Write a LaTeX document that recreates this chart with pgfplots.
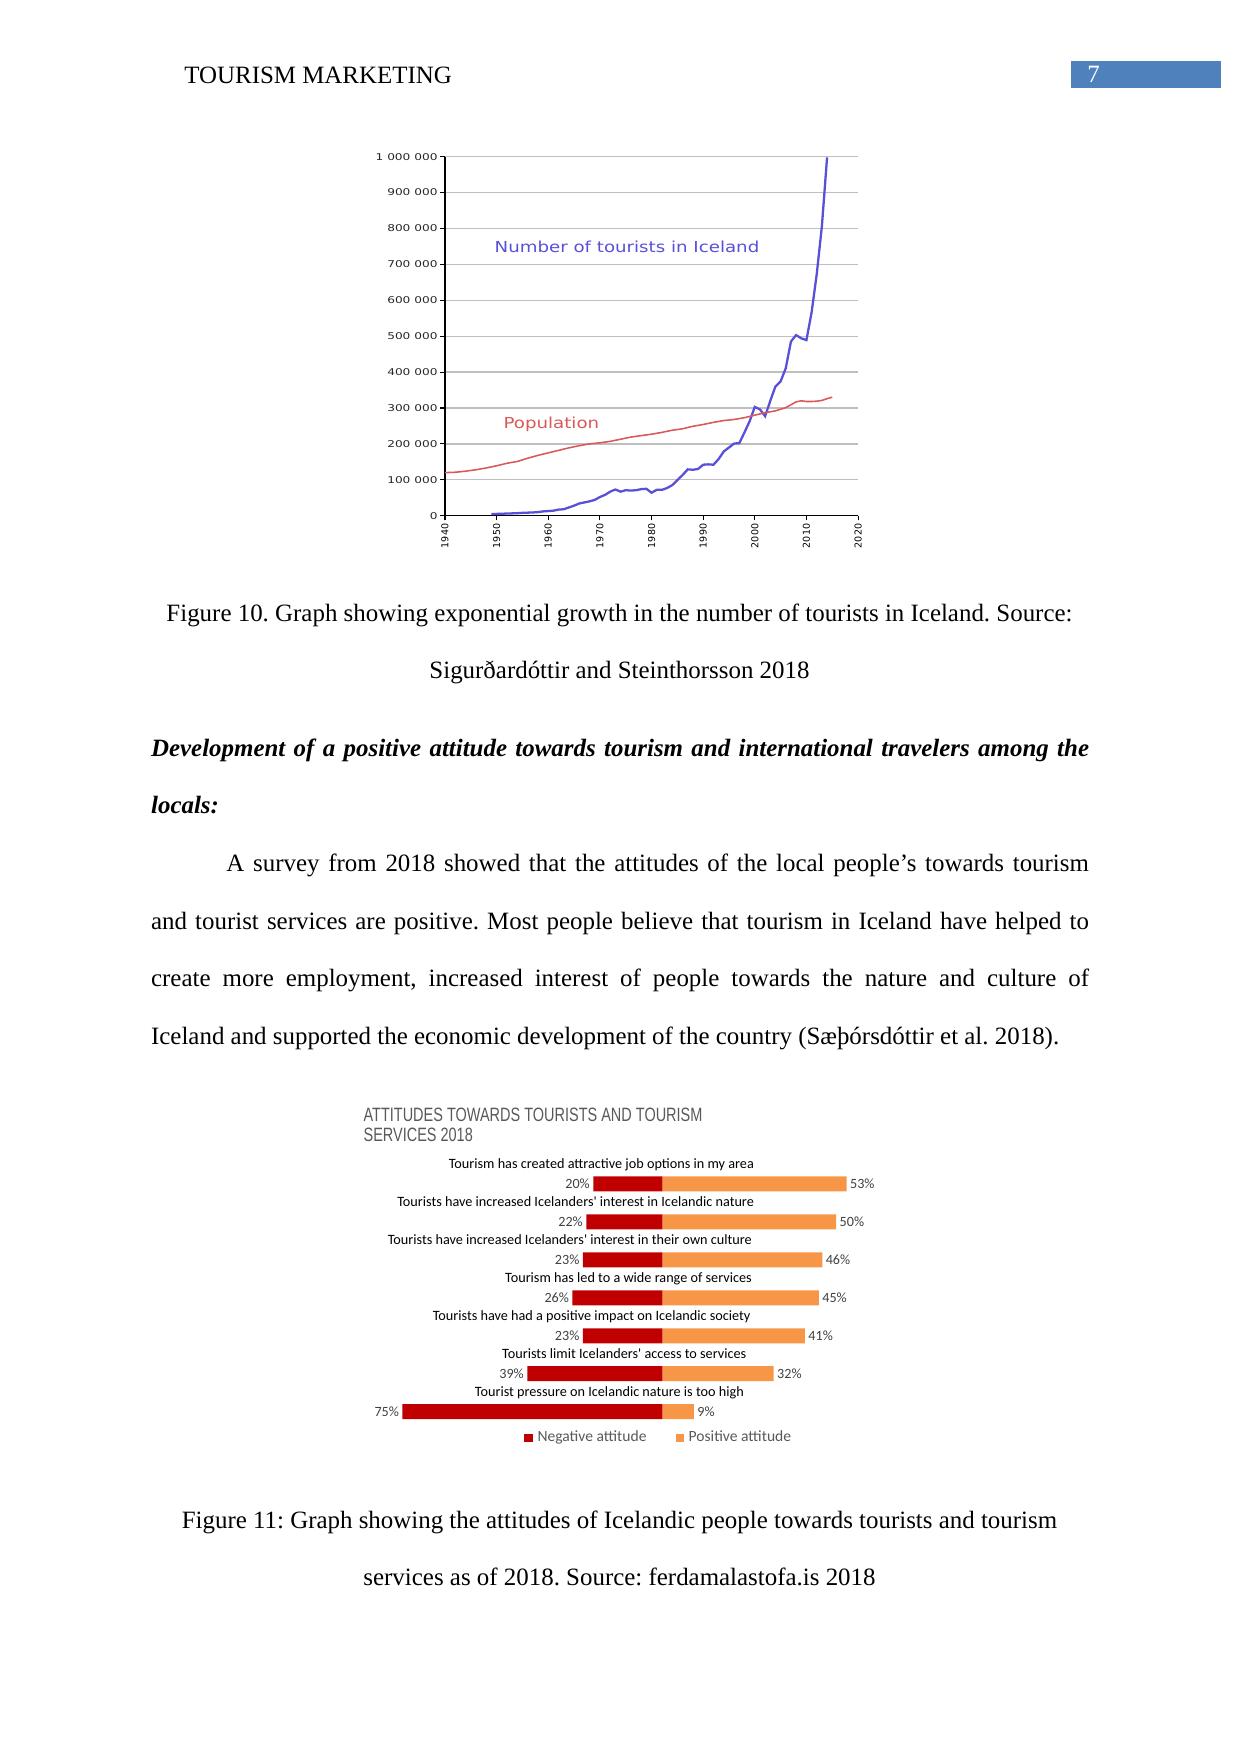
\documentclass[border=0pt]{standalone}
\usepackage{pgfplots}
\pgfplotsset{compat=1.18}
\usepackage{fontspec}
\setmainfont{Liberation Serif}
\newfontfamily\carl{Carlito}
\newfontfamily\wideA[FakeStretch=1.2]{DejaVu Sans}
\newfontfamily\wideB[FakeStretch=1.3]{DejaVu Sans}
\newfontfamily\dejavu{DejaVu Sans}
\newfontfamily\narrow[FakeStretch=0.75]{Liberation Sans}
\definecolor{hdrblue}{RGB}{79,129,189}
\definecolor{tourblue}{RGB}{88,80,216}
\definecolor{popred}{RGB}{218,88,88}
\definecolor{negred}{RGB}{192,0,0}
\definecolor{posorange}{RGB}{247,150,70}
\definecolor{titlegray}{RGB}{89,89,89}
\definecolor{labgray}{RGB}{64,64,64}
\newcommand{\body}{\fontsize{12}{14}\selectfont}
\frenchspacing

\begin{document}
\frenchspacing
\begin{tikzpicture}[x=0.4815pt,y=-0.4815pt]
\path[use as bounding box] (0,0) rectangle (1241,1754);

% header
\node[anchor=base west, inner sep=0pt, font=\body] at (184,83) {TOURISM MARKETING};
\fill[hdrblue] (1071,61) rectangle (1221,88.3);
\node[anchor=base west, inner sep=0pt, text=white, font=\body] at (1087,82) {7};

% figure 10 (445,515.7 px)
\begin{axis}[at={(214.27pt,-248.31pt)}, anchor=south west, scale only axis,
    width=198.9pt, height=172.9pt,
    xmin=1940, xmax=2020, ymin=0, ymax=1000000,
    scaled y ticks=false,
    axis x line*=bottom, axis y line*=left,
    x axis line style={-, line width=0.7pt},
    y axis line style={-, line width=1.4pt},
    ymajorgrids, grid style={gray!50, line width=0.6pt},
    tick align=outside, major tick length=2.2pt,
    tick style={black, line width=0.5pt},
    xtick={1940,1950,...,2020},
    xticklabels={1940,1950,1960,1970,1980,1990,2000,2010,2020},
    xticklabel style={rotate=90, anchor=east, inner sep=1.5pt,
        font=\dejavu\fontsize{4.6}{5}\selectfont},
    ytick={0,100000,...,1000000},
    yticklabels={0,100 000,200 000,300 000,400 000,500 000,600 000,700 000,800 000,900 000,1 000 000},
    yticklabel style={inner sep=1.2pt, text=black!85,
        font=\wideB\fontsize{4.5}{5}\selectfont},
    clip=false]
\addplot[tourblue, line width=1.1pt] coordinates {
(1949,5000)(1950,5000)(1952,6000)(1954,7000)(1955,8000)(1957,9000)(1958,10000)
(1959,12000)(1960,13000)(1961,14000)(1962,17000)(1963,18000)(1964,23000)
(1965,28000)(1966,34000)(1967,37000)(1968,40000)(1969,44000)(1970,52000)
(1971,58000)(1972,67000)(1973,73000)(1974,67000)(1975,71000)(1976,70000)
(1977,71000)(1978,74000)(1979,75000)(1980,64000)(1981,72000)(1982,72000)
(1983,77000)(1984,85000)(1985,99000)(1986,113000)(1987,129000)(1988,128000)
(1989,130000)(1990,142000)(1991,143000)(1992,142000)(1993,158000)(1994,179000)
(1995,190000)(1996,201000)(1997,202000)(1998,232000)(1999,263000)(2000,303000)
(2001,296000)(2002,277000)(2003,320000)(2004,360000)(2005,374000)(2006,411000)
(2007,485000)(2008,503000)(2009,494000)(2010,489000)(2011,566000)(2012,673000)
(2013,807000)(2014,998000)};
\addplot[popred, line width=0.75pt] coordinates {
(1940,120000)(1942,121000)(1944,124000)(1946,128000)(1948,133000)(1950,139000)
(1952,146000)(1954,151000)(1956,160000)(1958,168000)(1960,175000)(1962,182000)
(1964,189000)(1966,195000)(1968,200000)(1970,203000)(1972,207000)(1974,213000)
(1976,219000)(1978,223000)(1980,227000)(1982,232000)(1984,238000)(1986,242000)
(1988,249000)(1990,254000)(1992,260000)(1994,265000)(1996,268000)(1998,273000)
(2000,280000)(2002,287000)(2004,292000)(2006,301000)(2008,317000)(2009,320000)
(2010,318000)(2011,318000)(2012,319000)(2013,321000)(2014,326000)(2015,330000)};
\node[text=tourblue, font=\wideA\fontsize{7.3}{8}\selectfont] at (axis cs:1975.25,748500) {Number of tourists in Iceland};
\node[text=popred, font=\wideA\fontsize{7.3}{8}\selectfont] at (axis cs:1960.6,253500) {Population};
\end{axis}

% caption 10
\node[anchor=base, inner sep=0pt, font=\body] at (619.5,621.7) {Figure 10. Graph showing exponential growth in the number of tourists in Iceland. Source:};
\node[anchor=base, inner sep=0pt, font=\body] at (619.5,678.3) {Sigurðardóttir and Steinthorsson 2018};

% body text
\begin{scope}[every node/.style={anchor=base west, inner sep=0pt, font=\body}]
\node at (150.7,756.7) {\makebox[451.6pt][s]{\bfseries\itshape Development of a positive attitude towards tourism and international travelers among the}};
\node at (150.7,813.3) {\bfseries\itshape locals:};
\node at (226,871.7) {\makebox[415.3pt][s]{A survey from 2018 showed that the attitudes of the local people’s towards tourism}};
\node at (150.7,929) {\makebox[451.6pt][s]{and tourist services are positive. Most people believe that tourism in Iceland have helped to}};
\node at (150.7,986.7) {\makebox[451.6pt][s]{create more employment, increased interest of people towards the nature and culture of}};
\node at (150.7,1044) {Iceland and supported the economic development of the country (Sæþórsdóttir et al. 2018).};
\end{scope}

% figure 11
\node[anchor=base west, inner sep=0pt, text=titlegray, font=\narrow\fontsize{9.3}{11}\selectfont] at (363.2,1121.8) {ATTITUDES TOWARDS TOURISTS AND TOURISM};
\node[anchor=base west, inner sep=0pt, text=titlegray, font=\narrow\fontsize{9.3}{11}\selectfont] at (363.2,1141.9) {SERVICES 2018};

% (385.1,1430.7 px)
\begin{axis}[at={(185.43pt,-688.88pt)}, anchor=south west, scale only axis,
    width=233.9pt, height=128.0pt,
    xmin=-80, xmax=60, ymin=-0.5, ymax=6.5,
    hide axis, clip=false,
    xbar, bar width=7.22pt, bar shift=0pt,
    point meta=explicit symbolic,
    nodes near coords,
    every node near coord/.append style={text=labgray, inner sep=1.5pt,
        font=\carl\fontsize{6.8}{8}\selectfont},
    legend style={at={(0.286,-0.026)}, anchor=west, draw=none, inner sep=0pt,
        legend columns=2, column sep=2.4pt,
        font=\carl\fontsize{7.5}{9}\selectfont, text=titlegray,
        nodes={inner sep=0pt},
        /tikz/every even column/.append style={column sep=14pt}},
    legend image code/.code={\fill[#1] (0pt,-1.9pt) rectangle (3.9pt,1.9pt);}]
\addplot[fill=negred, draw=none,
    every node near coord/.append style={anchor=east}] coordinates {
(-20,6) [20\%] (-22,5) [22\%] (-23,4) [23\%] (-26,3) [26\%]
(-23,2) [23\%] (-39,1) [39\%] (-75,0) [75\%]};
\addlegendentry{Negative attitude}
\addplot[fill=posorange, draw=none,
    every node near coord/.append style={anchor=west}] coordinates {
(53,6) [53\%] (50,5) [50\%] (46,4) [46\%] (45,3) [45\%]
(41,2) [41\%] (32,1) [32\%] (9,0) [9\%]};
\addlegendentry{Positive attitude}
\begin{scope}[every node/.style={anchor=base east, inner sep=0pt, font=\carl\fontsize{6.85}{8}\selectfont}]
\node at (axis cs:26.4,6.41) {Tourism has created attractive job options in my area};
\node at (axis cs:26.4,5.41) {Tourists have increased Icelanders' interest in Icelandic nature};
\node at (axis cs:25.8,4.41) {Tourists have increased Icelanders' interest in their own culture};
\node at (axis cs:25.8,3.41) {Tourism has led to a wide range of services};
\node at (axis cs:25.4,2.41) {Tourists have had a positive impact on Icelandic society};
\node at (axis cs:24.2,1.41) {Tourists limit Icelanders' access to services};
\node at (axis cs:23.5,0.41) {Tourist pressure on Icelandic nature is too high};
\end{scope}
\end{axis}

% caption 11
\node[anchor=base, inner sep=0pt, font=\body] at (619.5,1528) {Figure 11: Graph showing the attitudes of Icelandic people towards tourists and tourism};
\node[anchor=base, inner sep=0pt, font=\body] at (619.5,1585) {services as of 2018. Source: ferdamalastofa.is 2018};
\end{tikzpicture}
\end{document}
